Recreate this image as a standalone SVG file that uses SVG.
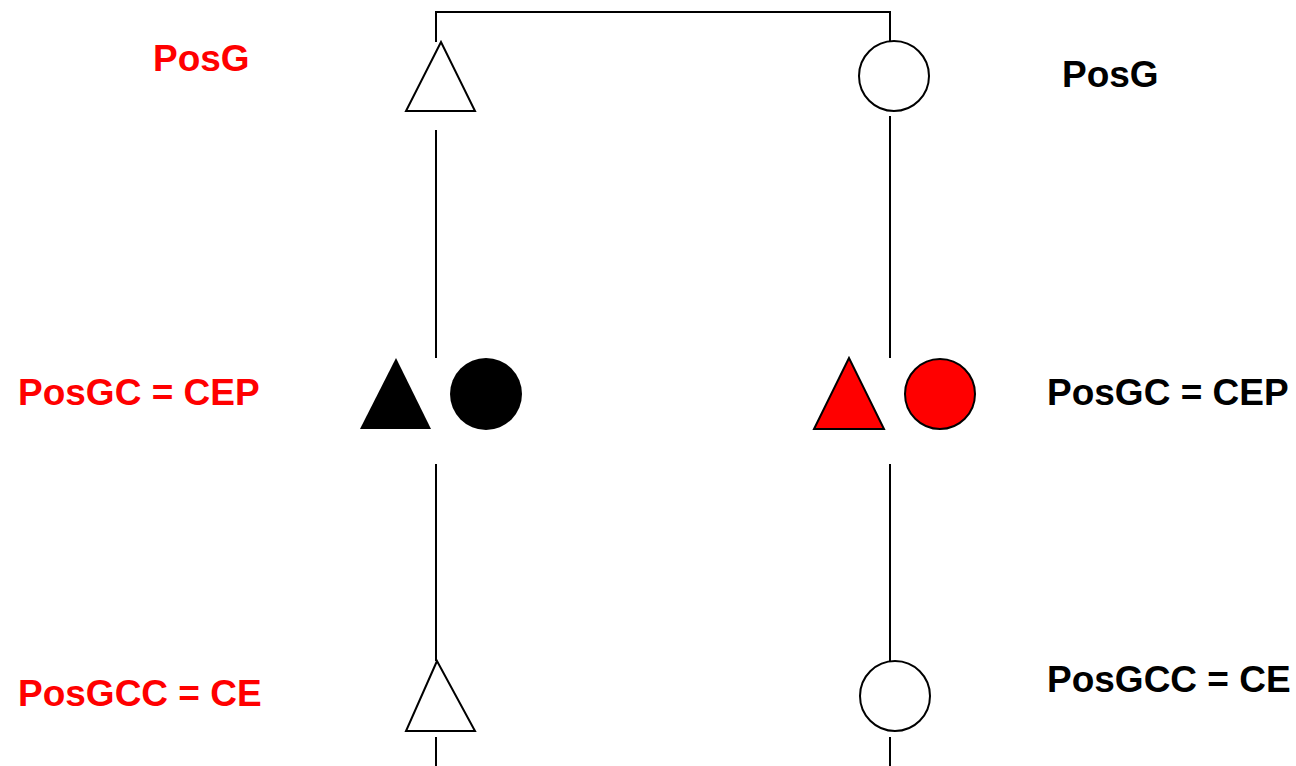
<svg xmlns="http://www.w3.org/2000/svg" width="1296" height="766" viewBox="0 0 1296 766">
<style>
.ln{stroke:#000;stroke-width:2;fill:none}
.sh{stroke:#000;stroke-width:2}
.t{font-family:"Liberation Sans",Arial,sans-serif;font-weight:bold;font-size:37px}
.r{fill:#ff0000}
.k{fill:#000}
</style>
<rect width="1296" height="766" fill="#fff"/>
<g id="connectors">
<polyline class="ln" points="436,42 436,12 890,12 890,41"/>
<line class="ln" x1="436" y1="130" x2="436" y2="358"/>
<line class="ln" x1="890" y1="116" x2="890" y2="358"/>
<line class="ln" x1="436" y1="464" x2="436" y2="661"/>
<line class="ln" x1="890" y1="464" x2="890" y2="662"/>
<line class="ln" x1="436" y1="737" x2="436" y2="766"/>
<line class="ln" x1="890" y1="737" x2="890" y2="766"/>
</g>
<g id="tri-top"><polygon class="sh" fill="#fff" points="441,42 406,111 475,111"/></g>
<g id="circ-top"><ellipse class="sh" fill="#fff" cx="894" cy="76" rx="35" ry="35"/></g>
<g id="tri-mid-black"><polygon fill="#000" points="396,358 360,429 431,429"/></g>
<g id="circ-mid-black"><ellipse fill="#000" cx="486" cy="394" rx="36" ry="36"/></g>
<g id="tri-mid-red"><polygon class="sh" fill="#ff0000" points="849,358 814,429 884,429"/></g>
<g id="circ-mid-red"><ellipse class="sh" fill="#ff0000" cx="940" cy="394" rx="35" ry="35"/></g>
<g id="tri-bot"><polygon class="sh" fill="#fff" points="437,661 406,731 475,731"/></g>
<g id="circ-bot"><ellipse class="sh" fill="#fff" cx="895" cy="696" rx="35" ry="35"/></g>
<g id="labels">
<text class="t r" x="153" y="71">PosG</text>
<text class="t k" x="1062" y="87">PosG</text>
<text class="t r" x="18" y="405">PosGC = CEP</text>
<text class="t k" x="1047" y="405">PosGC = CEP</text>
<text class="t r" x="18" y="706">PosGCC = CE</text>
<text class="t k" x="1047" y="692">PosGCC = CE</text>
</g>
</svg>
